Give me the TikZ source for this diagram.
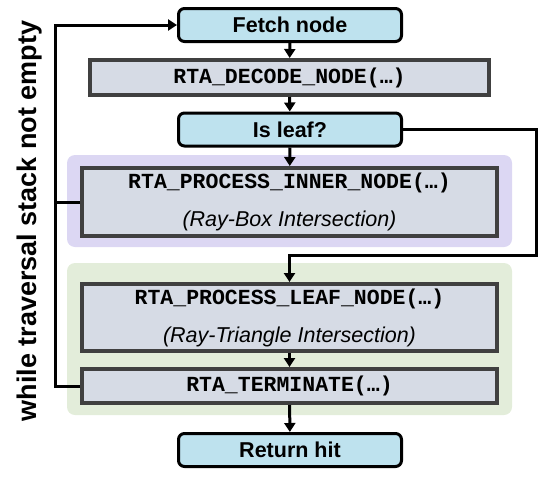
\documentclass[tikz,border=0pt]{standalone}
\usepackage{fontspec}
\setmainfont{Liberation Sans}
\setmonofont{Liberation Mono}
\usetikzlibrary{arrows.meta}
\definecolor{stepblue}{RGB}{190,226,238}
\definecolor{stepgrey}{RGB}{214,219,229}
\definecolor{stepedge}{RGB}{64,64,64}
\definecolor{innerbg}{RGB}{220,215,243}
\definecolor{leafbg}{RGB}{227,237,218}

\begin{document}
\begin{tikzpicture}[x=1pt,y=-1pt,
 ctrl/.style={draw=black,line width=3pt,fill=stepblue,rounded corners=6pt,minimum width=223pt,minimum height=33pt,inner sep=0pt,font=\fontsize{21.5}{26}\selectfont\bfseries},
 rta/.style={draw=stepedge,line width=4pt,fill=stepgrey,minimum width=415pt,inner sep=0pt,align=center,font=\fontsize{21.5}{35}\selectfont},
 flow/.style={line width=3pt,-{Triangle[width=11pt,length=9pt]}},
 loop/.style={line width=3pt}]
\useasboundingbox (0,0) rectangle (541,477);
\fill[innerbg,rounded corners=8pt] (67,155) rectangle (512,247);
\fill[leafbg,rounded corners=8pt] (67,263) rectangle (512,415);

\node[ctrl] (fetch) at (290,25) {Fetch node};
\node[rta,minimum width=399pt,minimum height=35pt] (decode) at (289.5,77.5) {\ttfamily\bfseries RTA\_DECODE\_NODE(…)};
\node[ctrl] (isleaf) at (290,129.5) {Is leaf?};
\node[rta,minimum height=68pt] (inner) at (289.5,202) {{\ttfamily\bfseries RTA\_PROCESS\_INNER\_NODE(…)}\\[3pt]{\itshape (Ray-Box Intersection)}};
\node[rta,minimum height=67pt] (leaf) at (289.5,317.5) {{\ttfamily\bfseries RTA\_PROCESS\_LEAF\_NODE(…)}\\[3pt]{\itshape (Ray-Triangle Intersection)}};
\node[rta,minimum height=34pt] (term) at (289.5,386) {\ttfamily\bfseries RTA\_TERMINATE(…)};
\node[ctrl] (ret) at (290,450) {Return hit};
\node[rotate=90,font=\fontsize{27}{32}\selectfont\bfseries] (cond) at (30,221) {while traversal stack not empty};

\coordinate (back) at (55,25);
\coordinate (skip) at (536,255);
\draw[flow] (fetch) -- (decode);
\draw[flow] (decode) -- (isleaf);
\draw[flow] (isleaf) -- (inner);
\draw[flow] (leaf) -- (term);
\draw[flow] (term) -- (ret);
\draw[flow] (isleaf.east) -| (skip) -| (leaf.north);
\draw[flow] (term.west) -| (back) -- (fetch.west);
\draw[loop] (inner.west) -- (inner.west -| back);
\end{tikzpicture}
\end{document}
